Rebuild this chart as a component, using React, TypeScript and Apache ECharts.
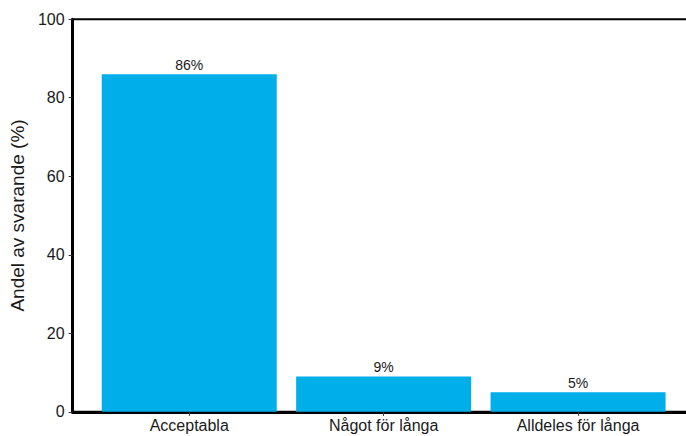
import React, { useEffect, useRef } from "react";
import * as echarts from "echarts";

const categories = ["Acceptabla", "Något för långa", "Alldeles för långa"];
const values = [86, 9, 5];
const yTicks = { min: 0, max: 100, interval: 20 };
const yName = "Andel av svarande (%)";

const FONT = "'Liberation Sans', Arial, Helvetica, sans-serif";

export default function App() {
  const ref = useRef<HTMLDivElement>(null);
  useEffect(() => {
    if (!ref.current) return;
    const chart = echarts.init(ref.current, null, { renderer: "svg" });
    const positions = categories.map((_, i) => i + 1);
    chart.setOption({
      animation: false,
      backgroundColor: "#ffffff",
      textStyle: { fontFamily: FONT },
      grid: {
        left: 72.3,
        right: 0.3,
        top: 19.2,
        bottom: 24.2,
        show: true,
        borderColor: "#000",
        borderWidth: 2,
        backgroundColor: "transparent",
      },
      xAxis: {
        type: "value",
        min: 0.4,
        max: 3.6,
        splitLine: { show: false },
        axisLine: { show: true, onZero: false, lineStyle: { color: "#000", width: 3 } },
        axisTick: {
          show: true,
          customValues: positions,
          length: 4,
          lineStyle: { color: "#333", width: 1 },
        },
        axisLabel: {
          show: true,
          customValues: positions,
          margin: 6,
          fontSize: 16,
          color: "#1a1a1a",
          fontFamily: FONT,
          formatter: (v: number) => categories[Math.round(v) - 1] ?? "",
        },
      },
      yAxis: {
        type: "value",
        min: yTicks.min,
        max: yTicks.max,
        interval: yTicks.interval,
        name: yName,
        nameLocation: "middle",
        nameGap: 37,
        nameTextStyle: { fontSize: 19, color: "#1a1a1a", fontFamily: FONT },
        splitLine: { show: false },
        axisLine: { show: true, onZero: false, lineStyle: { color: "#000", width: 3 } },
        axisTick: { show: true, length: 4, lineStyle: { color: "#333", width: 1 } },
        axisLabel: { margin: 8, fontSize: 16, color: "#1a1a1a", fontFamily: FONT },
      },
      series: [
        {
          type: "bar",
          data: values.map((v, i) => [positions[i], v]),
          barWidth: 175,
          itemStyle: { color: "#00AEEA" },
          label: {
            show: true,
            position: "top",
            distance: 2.5,
            fontSize: 14,
            color: "#1a1a1a",
            fontFamily: FONT,
            formatter: (p: any) => `${p.value[1]}%`,
          },
        },
      ],
    });
    return () => chart.dispose();
  }, []);
  return (
    <div
      style={{
        position: "fixed",
        left: 0,
        top: 0,
        width: 686,
        height: 436,
        overflow: "hidden",
        background: "#fff",
      }}
    >
      <div ref={ref} style={{ width: 695, height: 436 }} />
    </div>
  );
}
